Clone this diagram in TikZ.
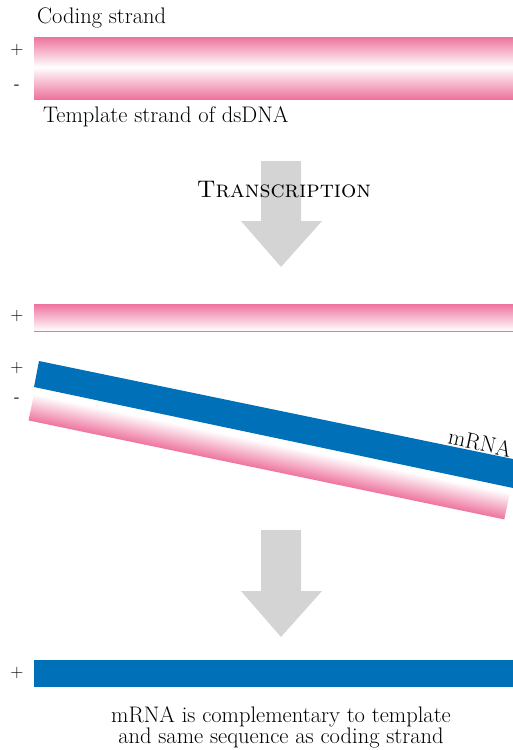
\documentclass[tikz,border=0pt]{standalone}
\usepackage{fontspec}
\definecolor{dnapink}{RGB}{238,115,158}
\definecolor{rnablue}{RGB}{0,113,185}
\definecolor{arrowgray}{RGB}{212,212,212}
\tikzset{
  txt/.style={font=\fontsize{22.5}{19}\selectfont, inner sep=0pt},
  sign/.style={font=\sffamily\fontsize{18}{18}\selectfont, inner sep=0pt},
  bigarrow/.style={fill=arrowgray, draw=none}
}
\begin{document}
\begin{tikzpicture}[x=1pt, y=-1pt]
    \useasboundingbox (0,0) rectangle (513,750);

    % --- dsDNA in alto ---
    \shade[top color=dnapink, bottom color=white] (34,37) rectangle (513,67);
    \shade[top color=white, bottom color=dnapink] (34,67) rectangle (513,99);
    \node[txt, anchor=base west] (coding) at (37,23) {Coding strand};
    \node[txt, anchor=base west] (template) at (43,122) {Template strand of dsDNA};
    \node[sign] (p1) at (17,50) {+};
    \node[sign] (m1) at (17,87) {-};

    % --- Freccia grigia (trascrizione) ---
    \draw[bigarrow] (261,161) -- (301,161) -- (301,221) -- (322,221) -- (281,267)
        -- (241,221) -- (261,221) -- cycle;
    \node[font=\fontsize{24}{24}\selectfont, inner sep=0pt] (transcription) at (284,190) {\textsc{Transcription}};

    % --- Filamento codificante separato ---
    \shade[top color=dnapink, bottom color=white] (34,304) rectangle (513,331);
    \draw[dnapink, line width=0.6pt] (34,331) -- (513,331);
    \node[sign] (p2) at (17,316) {+};

    % --- Stampo + mRNA (inclinati) ---
    \begin{scope}[transform canvas={shift={(34,394)}, rotate=-11.75}]
        \shade[top color=white, bottom color=dnapink] (0,0) rectangle (486,27);
    \end{scope}
    \fill[rnablue] (39,361) -- (513,459) -- (513,488) -- (34,387) -- cycle;
    \node[txt, rotate=-12] (mrna) at (480,443) {mRNA};
    \node[sign] (p3) at (17,368) {+};
    \node[sign] (m2) at (17,400) {-};

    % --- Seconda freccia ---
    \draw[bigarrow] (261,530) -- (301,530) -- (301,591) -- (322,591) -- (281,637)
        -- (241,591) -- (261,591) -- cycle;

    % --- mRNA finale ---
    \fill[rnablue] (34,660) rectangle (513,687);
    \node[sign] (p4) at (17,673) {+};
    \node[txt, align=center, anchor=north] (caption) at (281,706)
        {mRNA is complementary to template\\and same sequence as coding strand};

\end{tikzpicture}
\end{document}
